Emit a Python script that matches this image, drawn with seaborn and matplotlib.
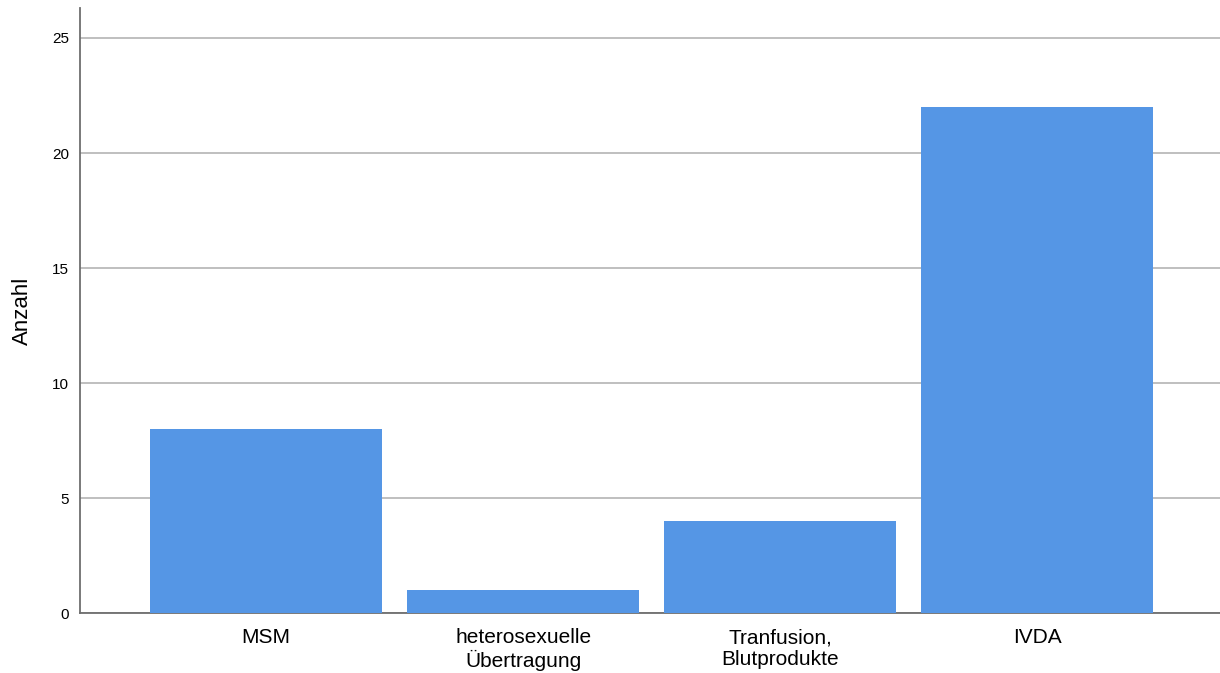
import seaborn as sns
import matplotlib.pyplot as plt
import pandas as pd

# data
categories = ['MSM', 'heterosexuelle\nÜbertragung', 'Tranfusion,\nBlutprodukte', 'IVDA']
counts = [8, 1, 4, 22]
yticks = [0, 5, 10, 15, 20, 25]

df = pd.DataFrame({'Gruppe': categories, 'Anzahl': counts})

sns.set_style('white')
plt.rcParams['font.family'] = ['Liberation Sans', 'DejaVu Sans']
plt.rcParams['text.color'] = 'black'
plt.rcParams['axes.labelcolor'] = 'black'
plt.rcParams['xtick.color'] = 'black'
plt.rcParams['ytick.color'] = 'black'

fig = plt.figure(figsize=(12.2, 6.73), dpi=100)
ax = fig.add_axes([0.0656, 0.089, 0.934, 0.899])

sns.barplot(data=df, x='Gruppe', y='Anzahl', color='#5596e5', saturation=1,
            width=0.9, linewidth=0, edgecolor='none', ax=ax, zorder=3)

ax.set_ylim(0, 26.3)
ax.set_xlim(-0.724, 3.71)
ax.set_yticks(yticks)
ax.set_yticklabels([str(t) for t in yticks], fontsize=11)
ax.yaxis.grid(True, color='#b4b4b4', linewidth=1.2, zorder=0)
ax.set_axisbelow(True)
ax.tick_params(axis='both', length=0, pad=8)
ax.tick_params(axis='x', labelsize=15, pad=11)
for lbl in ax.get_xticklabels():
    lbl.set_linespacing(1.15)

ax.set_xlabel('')
ax.set_ylabel('Anzahl', fontsize=16, labelpad=14)

for s in ['top', 'right']:
    ax.spines[s].set_visible(False)
for s in ['left', 'bottom']:
    ax.spines[s].set_color('#6e6e6e')
    ax.spines[s].set_linewidth(1.3)

plt.savefig('out.png', dpi=100)
